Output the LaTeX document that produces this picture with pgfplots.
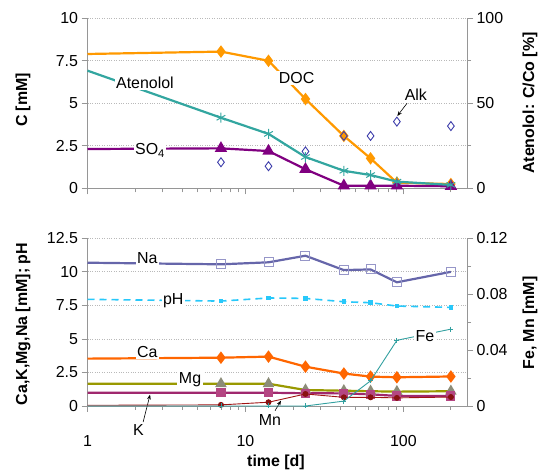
\documentclass[border=0pt]{standalone}
\usepackage{pgfplots}
\pgfplotsset{compat=1.18}
\usepackage{fontspec}
\setmainfont{Liberation Sans}
\usetikzlibrary{arrows.meta}

\definecolor{axgray}{RGB}{150,150,150}
\definecolor{gridgray}{RGB}{185,185,185}
\definecolor{docC}{RGB}{255,153,0}
\definecolor{ateC}{RGB}{51,166,160}
\definecolor{so4C}{RGB}{128,0,128}
\definecolor{alkC}{RGB}{60,60,170}
\definecolor{naC}{RGB}{102,102,170}
\definecolor{naM}{RGB}{150,150,200}
\definecolor{phC}{RGB}{40,200,250}
\definecolor{caC}{RGB}{255,102,0}
\definecolor{mgC}{RGB}{153,153,0}
\definecolor{mgM}{RGB}{140,140,120}
\definecolor{kC}{RGB}{160,40,110}
\definecolor{kM}{RGB}{180,70,130}
\definecolor{mnC}{RGB}{160,20,20}
\definecolor{feC}{RGB}{50,160,160}

\newcommand{\lblfont}{\fontsize{16}{19}\selectfont}

\pgfplotsset{
  chart/.style={
    scale only axis, width=379.5bp,
    xmin=1, xmax=253,
    clip=false,
    axis line style={axgray, line width=0.8bp},
    tick style={axgray, line width=0.8bp},
    tick align=outside,
    major tick length=6bp, minor tick length=4bp,
    xtick={1,10,100},
    minor xtick={2,3,4,5,6,7,8,9,20,30,40,50,60,70,80,90,200},
    tick label style={font=\lblfont, text=black},
    /pgf/number format/assume math mode=true,
    grid style={gridgray, dotted, line width=0.8bp},
  },
  thick line/.style={line width=2.2bp, mark phase=2},
}

\begin{document}
\begin{tikzpicture}[x=1bp, y=1bp]
\useasboundingbox (0,0) rectangle (550,475);

% ---------------- upper panel: DOC, SO4, alkalinity (mM) ----------------
\begin{semilogxaxis}[chart, at={(87.5bp,286.7bp)}, anchor=south west, height=170bp,
  ymin=0, ymax=10, axis y line*=left, axis x line*=bottom,
  ytick={0,2.5,5,7.5,10}, yticklabels={0,2.5,5,7.5,10},
  xticklabels={}, ymajorgrids]
  \addplot[docC, thick line, mark=diamond*, mark size=4.5bp,
    mark options={solid, fill=docC}] coordinates {
    (1,7.9) (7,8.04) (14,7.5) (24,5.25) (42,3.08) (62,1.76) (91,0.33) (200,0.25)};
  \addplot[so4C, thick line, mark=triangle*, mark size=5bp,
    mark options={solid, fill=so4C}] coordinates {
    (1,2.31) (7,2.35) (14,2.19) (24,1.12) (42,0.15) (62,0.15) (91,0.15) (200,0.12)};
  \addplot[alkC, only marks, mark=diamond, mark size=4.5bp,
    mark options={line width=0.9bp}] coordinates {
    (7,1.53) (14,1.30) (24,2.17) (42,3.08) (62,3.08) (91,3.92) (200,3.66)};
  \node[font=\lblfont, fill=white, inner sep=1.5bp] at (axis cs:21.1,6.5) {DOC};
  \node[font=\lblfont, fill=white, inner sep=1.5bp] at (axis cs:2.49,2.21) {SO\textsubscript{4}};
  \node[font=\lblfont, inner sep=1bp] at (axis cs:120,5.49) {Alk};
  \draw[-{Stealth[length=5bp]}, line width=0.6bp] (axis cs:105.5,5.0) -- (axis cs:91.5,4.25);
\end{semilogxaxis}

% ---------------- upper panel: atenolol (% of initial) ----------------
\begin{semilogxaxis}[chart, at={(87.5bp,286.7bp)}, anchor=south west, height=170bp,
  ymin=0, ymax=100, axis y line*=right, axis x line=none,
  ytick={0,50,100}, yticklabels={0,50,100}, minor ytick={25,75}]
  \addplot[ateC, thick line, mark=asterisk, mark size=5bp,
    mark options={solid, line width=1bp}] coordinates {
    (1,69.2) (7,41.5) (14,32.0) (24,18.4) (42,10.3) (62,7.8) (91,3.9) (200,2.0)};
  \node[font=\lblfont, fill=white, inner sep=1.5bp] at (axis cs:2.31,61.9) {Atenolol};
\end{semilogxaxis}

% ---------------- lower panel: major ions and pH ----------------
\begin{semilogxaxis}[chart, at={(87.5bp,69bp)}, anchor=south west, height=167.7bp,
  ymin=0, ymax=12.5, axis y line*=left, axis x line*=bottom,
  ytick={0,2.5,5,7.5,10,12.5}, yticklabels={0,2.5,5,7.5,10,12.5},
  xticklabels={1,10,100}, ymajorgrids,
  xticklabel style={yshift=-20bp}]
  \addplot[naC, thick line, mark=square, mark size=4.5bp,
    mark options={solid, draw=naM, line width=1bp}] coordinates {
    (1,10.68) (7,10.56) (14,10.71) (24,11.2) (42,10.13) (62,10.18) (91,9.22) (200,10.0)};
  \addplot[phC, line width=1.6bp, dash pattern=on 7bp off 5bp, mark phase=2,
    mark=square*, mark size=1.5bp, mark options={solid, fill=phC}] coordinates {
    (1,7.95) (7,7.82) (14,8.05) (24,8.02) (42,7.77) (62,7.70) (91,7.45) (200,7.35)};
  \addplot[caC, thick line, mark=diamond*, mark size=4.5bp,
    mark options={solid, fill=caC}] coordinates {
    (1,3.53) (7,3.6) (14,3.68) (24,2.93) (42,2.42) (62,2.19) (91,2.14) (200,2.2)};
  \addplot[mgC, thick line, mark=triangle*, mark size=4.5bp,
    mark options={solid, draw=mgM, fill=mgM}] coordinates {
    (1,1.66) (7,1.66) (14,1.66) (24,1.19) (42,1.14) (62,1.10) (91,1.07) (200,1.10)};
  \addplot[kC, thick line, mark=square*, mark size=3.5bp,
    mark options={solid, draw=kM, fill=kM}] coordinates {
    (1,0.99) (7,0.99) (14,0.99) (24,0.95) (42,0.94) (62,0.87) (91,0.75) (200,0.75)};
  \node[font=\lblfont, fill=white, inner sep=1.5bp] at (axis cs:2.39,11.05) {Na};
  \node[font=\lblfont, fill=white, inner sep=1.5bp] at (axis cs:3.49,7.85) {pH};
  \node[font=\lblfont, fill=white, inner sep=1.5bp] at (axis cs:2.39,4.05) {Ca};
  \node[font=\lblfont, fill=white, inner sep=1.5bp] at (axis cs:4.46,1.99) {Mg};
  \node[font=\lblfont, inner sep=1bp] at (axis cs:2.10,-1.79) {K};
  \draw[-{Stealth[length=5bp]}, line width=0.6bp] (axis cs:2.25,-1.2) -- (axis cs:2.49,0.85);
  \node[font=\lblfont, inner sep=1bp] at (axis cs:14.3,-1.04) {Mn};
  \draw[-{Stealth[length=5bp]}, line width=0.6bp] (axis cs:15.4,-0.35) -- (axis cs:16.8,0.4);
\end{semilogxaxis}

% ---------------- lower panel: trace metals (mM) ----------------
\begin{semilogxaxis}[chart, at={(87.5bp,69bp)}, anchor=south west, height=167.7bp,
  ymin=0, ymax=0.12, axis y line*=right, axis x line=none,
  ytick={0,0.04,0.08,0.12}, yticklabels={0,0.04,0.08,0.12},
  minor ytick={0.02,0.06,0.10}]
  \addplot[mnC, line width=0.9bp, mark phase=2, mark=*, mark size=2.5bp,
    mark options={solid, fill=mnC!85!black, draw=mnC!85!black}] coordinates {
    (1,0.0005) (7,0.0008) (14,0.0027) (24,0.0086) (42,0.0062) (62,0.0062) (91,0.0058) (200,0.0064)};
  \addplot[feC, line width=0.9bp, mark phase=2, mark=+, mark size=2.5bp,
    mark options={solid}] coordinates {
    (1,0) (7,0) (14,0) (24,0) (42,0.0035) (62,0.018) (91,0.047) (200,0.055)};
  \node[font=\lblfont, fill=white, inner sep=1.5bp] at (axis cs:137,0.0501) {Fe};
\end{semilogxaxis}

% ---------------- axis titles ----------------
\node[font=\lblfont\bfseries, rotate=90] at (23,375) {C [mM]};
\node[font=\lblfont\bfseries, rotate=90] at (530,372) {Atenolol: C/Co [\%]};
\node[font=\lblfont\bfseries, rotate=90] at (23,151) {Ca,K,Mg,Na [mM]; pH};
\node[font=\lblfont\bfseries, rotate=90] at (530,152) {Fe, Mn [mM]};
\node[font=\lblfont\bfseries] at (276,13) {time [d]};
\end{tikzpicture}
\end{document}
